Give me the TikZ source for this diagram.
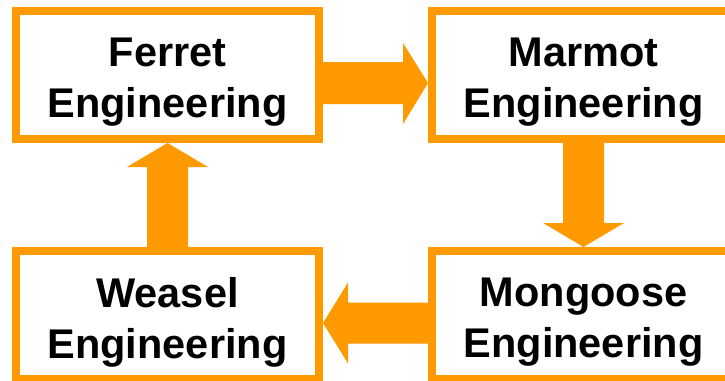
\documentclass[tikz,border=0pt]{standalone}
\usepackage{fontspec}
\setmainfont{Liberation Sans}
\usetikzlibrary{calc}
\definecolor{acc}{HTML}{FF9900}
\tikzset{
  box/.style={draw=acc, line width=8pt, fill=white, minimum width=303pt, minimum height=128pt, inner sep=0pt, outer sep=4pt},
  lbl/.style={align=center, font=\fontsize{41.5pt}{51pt}\selectfont\bfseries, text=black, inner sep=0pt},
  conn/.style={fill=acc}
}
\begin{document}
\begin{tikzpicture}[x=1pt, y=-1pt]
\useasboundingbox (0,0) rectangle (725,380);
\clip (0,0) rectangle (725,380);
\node[box] (f) at (167.5,75) {};
\node[box] (m) at (583.5,75) {};
\node[box] (w) at (167.5,315) {};
\node[box] (g) at (583.5,315) {};
\node[lbl] (ft) at ($(f.center)+(0,7)$) {Ferret\\Engineering};
\node[lbl] (mt) at ($(m.center)+(0,7)$) {Marmot\\Engineering};
\node[lbl] (wt) at ($(w.center)+(0,7)$) {Weasel\\Engineering};
\node[lbl] (gt) at ($(g.center)+(0,7)$) {Mongoose\\Engineering};
% Ferret -> Marmot
\fill[conn] ($(f.east)+(0,-13)$) -- ($(m.west)+(-25,-13)$) -- ($(m.west)+(-25,-32)$) -- ($(m.west)+(0,8)$) -- ($(m.west)+(-25,49)$) -- ($(m.west)+(-25,29)$) -- ($(f.east)+(0,29)$) -- cycle;
% Marmot -> Mongoose
\fill[conn] ($(m.south)+(-20.5,0)$) -- ($(g.north)+(-20.5,-24)$) -- ($(g.north)+(-40.5,-24)$) -- (g.north) -- ($(g.north)+(40.5,-24)$) -- ($(g.north)+(20.5,-24)$) -- ($(m.south)+(20.5,0)$) -- cycle;
% Mongoose -> Weasel
\fill[conn] ($(g.west)+(0,-12.5)$) -- ($(w.east)+(25,-12.5)$) -- ($(w.east)+(25,-32.5)$) -- ($(w.east)+(0,8)$) -- ($(w.east)+(25,48.5)$) -- ($(w.east)+(25,28.5)$) -- ($(g.west)+(0,28.5)$) -- cycle;
% Weasel -> Ferret
\fill[conn] ($(w.north)+(-20.5,0)$) -- ($(f.south)+(-20.5,24)$) -- ($(f.south)+(-40.5,24)$) -- (f.south) -- ($(f.south)+(40.5,24)$) -- ($(f.south)+(20.5,24)$) -- ($(w.north)+(20.5,0)$) -- cycle;
\end{tikzpicture}
\end{document}
